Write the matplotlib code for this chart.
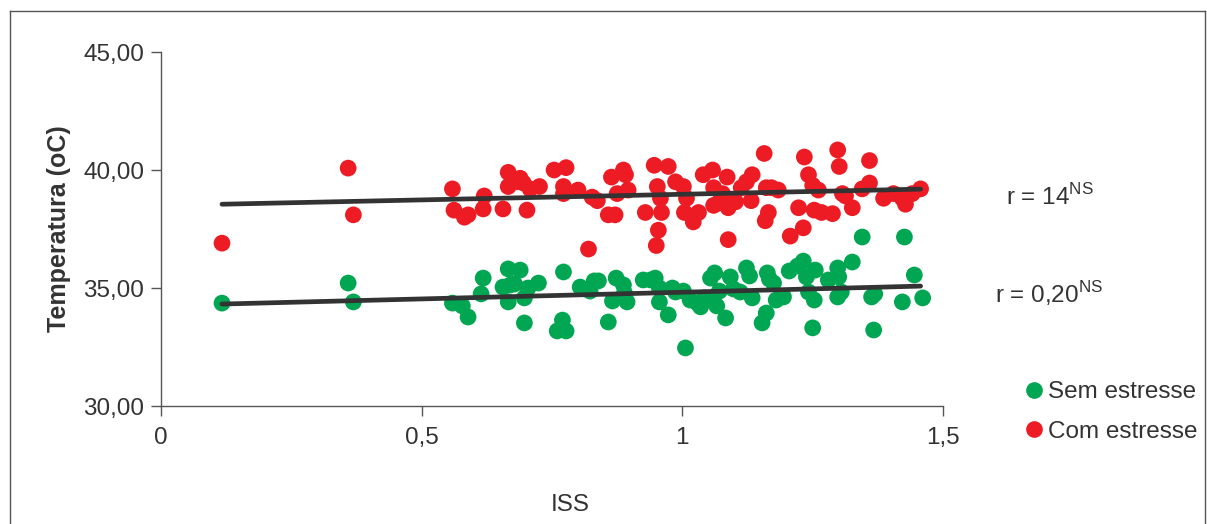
import matplotlib
matplotlib.use("Agg")
import matplotlib.pyplot as plt
from matplotlib.lines import Line2D
import numpy as np

plt.rcParams['font.family'] = ['Liberation Sans', 'DejaVu Sans']

# Com estresse (red)
red_x = [0.117, 0.359, 0.369, 0.559, 0.562, 0.582, 0.589, 0.618, 0.620, 0.666, 0.666, 0.656,
         0.681, 0.689, 0.695, 0.702, 0.708, 0.726, 0.754, 0.777, 0.772, 0.772, 0.800, 0.820,
         0.827, 0.837, 0.858, 0.871, 0.864, 0.887, 0.891, 0.875, 0.896, 0.929, 0.946, 0.952,
         0.960, 0.954, 0.950, 0.958, 0.973, 0.987, 1.002, 1.004, 1.008, 1.021, 1.031, 1.040,
         1.058, 1.060, 1.069, 1.060, 1.077, 1.086, 1.088, 1.088, 1.102, 1.113, 1.123, 1.134,
         1.132, 1.157, 1.161, 1.165, 1.159, 1.171, 1.184, 1.207, 1.223, 1.232, 1.234, 1.242,
         1.250, 1.261, 1.253, 1.267, 1.288, 1.298, 1.301, 1.307, 1.313, 1.326, 1.345, 1.359,
         1.359, 1.386, 1.405, 1.422, 1.428, 1.441, 1.457]
red_y = [36.90, 40.08, 38.10, 39.20, 38.30, 38.00, 38.10, 38.35, 38.90, 39.90, 39.30, 38.35,
         39.50, 39.65, 39.45, 38.30, 39.20, 39.30, 40.00, 40.10, 39.30, 39.00, 39.15, 36.65,
         38.85, 38.70, 38.10, 38.10, 39.70, 40.00, 39.80, 39.00, 39.15, 38.20, 40.20, 39.30,
         38.20, 37.45, 36.80, 38.80, 40.15, 39.50, 39.30, 38.20, 38.80, 37.80, 38.20, 39.80,
         40.00, 39.25, 38.60, 38.50, 39.00, 39.70, 38.40, 37.05, 38.65, 39.25, 39.50, 39.80,
         38.70, 40.70, 39.25, 38.20, 37.85, 39.25, 39.15, 37.20, 38.40, 37.55, 40.55, 39.80,
         39.35, 39.15, 38.30, 38.20, 38.15, 40.85, 40.15, 39.00, 38.90, 38.40, 39.20, 40.40,
         39.45, 38.80, 39.00, 38.80, 38.55, 39.00, 39.20]

# Sem estresse (green)
green_x = [0.117, 0.359, 0.369, 0.559, 0.578, 0.589, 0.618, 0.614, 0.666, 0.689, 0.656, 0.670,
           0.666, 0.678, 0.697, 0.697, 0.724, 0.704, 0.760, 0.770, 0.777, 0.772, 0.804, 0.823,
           0.831, 0.839, 0.858, 0.866, 0.873, 0.887, 0.889, 0.894, 0.925, 0.939, 0.948, 0.956,
           0.956, 0.973, 0.981, 0.987, 1.006, 1.002, 1.015, 1.029, 1.035, 1.042, 1.054, 1.062,
           1.058, 1.066, 1.071, 1.083, 1.092, 1.098, 1.111, 1.123, 1.129, 1.134, 1.153, 1.161,
           1.163, 1.167, 1.175, 1.180, 1.194, 1.205, 1.221, 1.232, 1.238, 1.242, 1.253, 1.250,
           1.255, 1.280, 1.298, 1.300, 1.298, 1.305, 1.326, 1.345, 1.363, 1.367, 1.369, 1.422,
           1.426, 1.445, 1.461]
green_y = [34.36, 35.21, 34.41, 34.36, 34.24, 33.77, 35.42, 34.75, 35.81, 35.76, 35.04, 35.13,
           34.41, 35.17, 34.58, 33.52, 35.21, 35.00, 33.18, 33.64, 33.18, 35.68, 35.04, 34.87,
           35.30, 35.30, 33.56, 34.45, 35.42, 35.13, 34.79, 34.41, 35.34, 35.34, 35.42, 35.00,
           34.41, 33.86, 35.00, 34.83, 32.46, 34.87, 34.49, 34.36, 34.20, 34.58, 35.42, 35.64,
           34.49, 34.24, 34.87, 33.73, 35.47, 34.96, 34.83, 35.85, 35.51, 34.58, 33.52, 33.94,
           35.64, 35.38, 35.21, 34.49, 34.62, 35.72, 35.93, 36.14, 35.47, 34.83, 34.49, 33.31,
           35.76, 35.34, 35.85, 35.47, 34.62, 34.83, 36.10, 37.16, 34.62, 33.22, 34.75, 34.41,
           37.16, 35.55, 34.58]

# trend lines (end points)
trend_x = [0.117, 1.457]
trend_red = [38.55, 39.19]
trend_green = [34.32, 35.08]

x_ticks = [0, 0.5, 1, 1.5]
x_ticklabels = ['0', '0,5', '1', '1,5']
y_ticks = [30, 35, 40, 45]
y_ticklabels = ['30,00', '35,00', '40,00', '45,00']

RED = '#ED1C24'
GREEN = '#00A651'
TXT = '#333333'
FS = 17.5

W, H = 1207, 524
fig = plt.figure(figsize=(W / 100, H / 100), dpi=100)
ax = fig.add_axes([161 / W, (H - 406) / H, 782 / W, 354 / H])

ax.scatter(green_x, green_y, s=145, color=GREEN, edgecolors='none', zorder=3)
ax.scatter(red_x, red_y, s=145, color=RED, edgecolors='none', zorder=3)
ax.plot(trend_x, trend_red, color='#333333', lw=3.4, solid_capstyle='round', zorder=4)
ax.plot(trend_x, trend_green, color='#333333', lw=3.4, solid_capstyle='round', zorder=4)

ax.set_xlim(0, 1.5)
ax.set_ylim(30, 45)
ax.set_xticks(x_ticks)
ax.set_xticklabels(x_ticklabels)
ax.set_yticks(y_ticks)
ax.set_yticklabels(y_ticklabels)
for s in ['top', 'right']:
    ax.spines[s].set_visible(False)
for s in ['left', 'bottom']:
    ax.spines[s].set_color('#555555')
    ax.spines[s].set_linewidth(1.0)
ax.tick_params(axis='both', direction='out', length=7, width=1, color='#555555',
               labelsize=FS, labelcolor=TXT, pad=5)
ax.tick_params(axis='x', pad=8)

ax.set_ylabel('Temperatura (oC)', fontsize=18, fontweight='bold', color=TXT, labelpad=9)
fig.text(570 / W, 1 - 505 / H, 'ISS', fontsize=FS, color=TXT, ha='center', va='center')

fig.text(1006 / W, 1 - 197 / H, r'r = 14$^{\mathregular{NS}}$', fontsize=FS, color=TXT,
         ha='left', va='center')
fig.text(995 / W, 1 - 294 / H, r'r = 0,20$^{\mathregular{NS}}$', fontsize=FS, color=TXT,
         ha='left', va='center')

handles = [Line2D([], [], marker='o', ls='none', color=GREEN, markersize=11),
           Line2D([], [], marker='o', ls='none', color=RED, markersize=11)]
fig.legend(handles, ['Sem estresse', 'Com estresse'], loc='center left',
           bbox_to_anchor=(1010 / W, 1 - 412 / H), frameon=False, fontsize=FS,
           handletextpad=0.05, handlelength=1.0, labelspacing=0.72, borderpad=0,
           labelcolor=TXT)

# outer frame
fr = dict(color='#555555', lw=1.0)
fig.add_artist(Line2D([10 / W, 10 / W], [0, 1 - 11 / H], **fr))
fig.add_artist(Line2D([10 / W, 1205 / W], [1 - 11 / H, 1 - 11 / H], **fr))
fig.add_artist(Line2D([1205 / W, 1205 / W], [0, 1 - 11 / H], **fr))

fig.savefig('out.png', dpi=100, facecolor='white')
